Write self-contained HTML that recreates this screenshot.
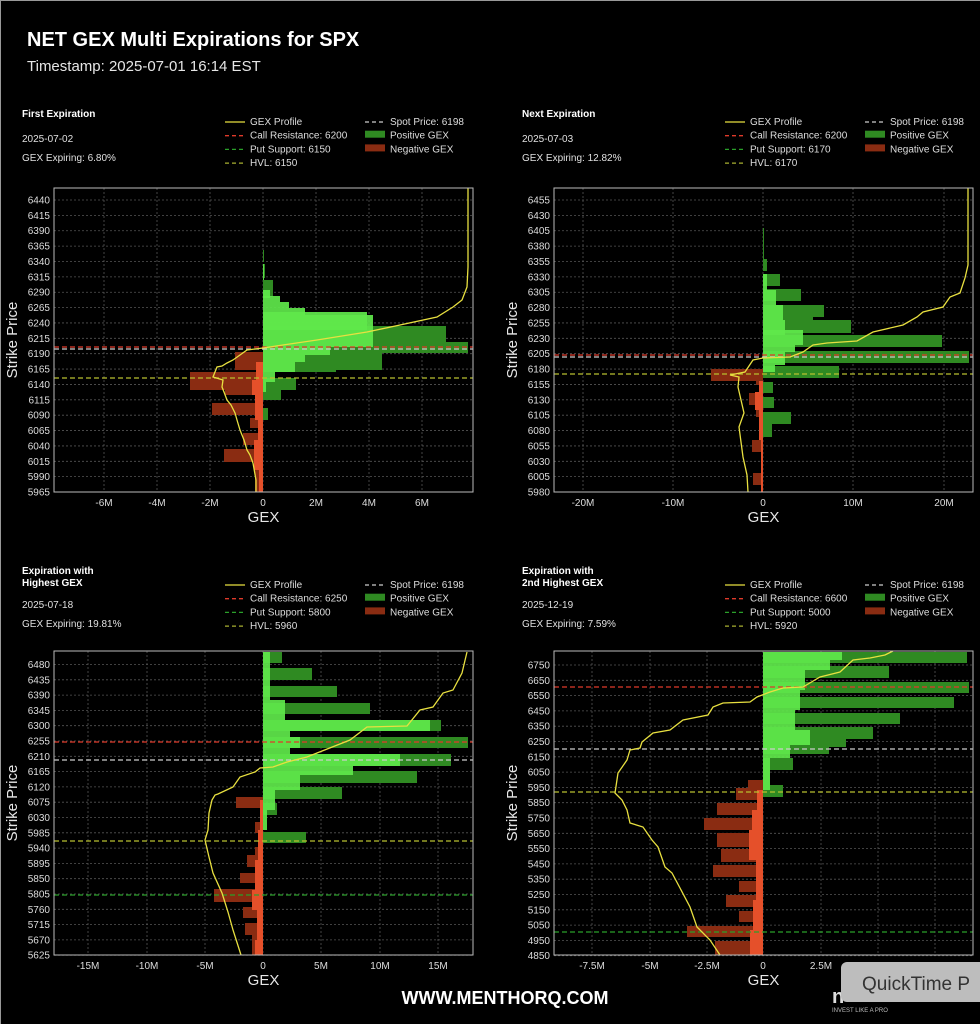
<!DOCTYPE html>
<html><head><meta charset="utf-8"><style>
html,body{margin:0;padding:0;background:#000;}
svg{display:block;font-family:"Liberation Sans",sans-serif;}
</style></head><body>
<svg id="s" width="980" height="1024" viewBox="0 0 980 1024" xmlns="http://www.w3.org/2000/svg"></svg>
<script>
var o='';
o+='<rect x="0" y="0" width="980" height="1024" fill="#000"/>';
o+='<rect x="0.5" y="0.5" width="990" height="1030" fill="none" stroke="#999" stroke-width="1"/>';
o+='<text x="27" y="46" fill="#fff" font-size="20" font-weight="bold">NET GEX Multi Expirations for SPX</text>';
o+='<text x="27" y="71" fill="#e6e6e6" font-size="15">Timestamp: 2025-07-01 16:14 EST</text>';
var DG='#2f8a22',BG='#5fe84b',DR='#8a2c12',BR='#e5502a';
function txt(x,y,t,sz,col,anc,w){o+='<text x="'+x+'" y="'+y+'" fill="'+(col||'#ddd')+'" font-size="'+(sz||10)+'"'+(anc?' text-anchor="'+anc+'"':'')+(w?' font-weight="bold"':'')+'>'+t+'</text>';}
function panel(p){
 var L=p.x0,R=p.x1,T=p.y0,B=p.y1;
 p.xt.forEach(function(t){o+='<line x1="'+t[0]+'" y1="'+T+'" x2="'+t[0]+'" y2="'+B+'" stroke="#555" stroke-width="0.8" stroke-dasharray="2,2"/>';
   txt(t[0],B+14,t[1],10,'#ddd','middle');});
 for(var i=0;i<p.yl.length;i++){var y=p.ya+i*p.ys;o+='<line x1="'+L+'" y1="'+y+'" x2="'+R+'" y2="'+y+'" stroke="#555" stroke-width="0.8" stroke-dasharray="2,2"/>';
   txt(L-4,y+3.5,p.yl[i],10,'#ddd','end');}
 p.dg.forEach(function(b){o+='<rect x="'+p.z+'" y="'+b[0]+'" width="'+(b[2]-p.z)+'" height="'+(b[1]-b[0])+'" fill="'+DG+'"/>';});
 p.bg.forEach(function(b){o+='<rect x="'+p.z+'" y="'+b[0]+'" width="'+(b[2]-p.z)+'" height="'+(b[1]-b[0])+'" fill="'+BG+'" opacity="0.92"/>';});
 p.dr.forEach(function(b){o+='<rect x="'+b[2]+'" y="'+b[0]+'" width="'+(p.z-b[2])+'" height="'+(b[1]-b[0])+'" fill="'+DR+'"/>';});
 p.br.forEach(function(b){o+='<rect x="'+b[2]+'" y="'+b[0]+'" width="'+(p.z-b[2])+'" height="'+(b[1]-b[0])+'" fill="'+BR+'"/>';});
 p.lv.forEach(function(l){o+='<line x1="'+L+'" y1="'+l[0]+'" x2="'+R+'" y2="'+l[0]+'" stroke="'+l[1]+'" stroke-width="1.3" stroke-dasharray="5,3"/>';});
 o+='<polyline points="'+p.yp.map(function(q){return q.join(',')}).join(' ')+'" fill="none" stroke="#e8e040" stroke-width="1.3"/>';
 o+='<rect x="'+L+'" y="'+T+'" width="'+(R-L)+'" height="'+(B-T)+'" fill="none" stroke="#bbb" stroke-width="1"/>';
 txt((L+R)/2,B+30,'GEX',15,'#e6e6e6','middle');
 o+='<text transform="translate('+(L-37)+','+((T+B)/2)+') rotate(-90)" fill="#e6e6e6" font-size="15" text-anchor="middle">Strike Price</text>';
}
function header(x,y,title,date,exp,leg){
 title.forEach(function(t,i){txt(x,y+i*12,t,10,'#fff',null,true);});
 var dy=title.length>1?y+34:y+25;
 txt(x,dy,date,10,'#e0e0e0');
 txt(x,dy+19,exp,10,'#e0e0e0');
 var lx=x+203,ly=y+(title.length>1?14:8);
 var rows=[['#e8e040','solid','GEX Profile'],['#e03a2a','d','Call Resistance: '+leg[0]],['#2aa02a','d','Put Support: '+leg[1]],['#a8b030','d','HVL: '+leg[2]]];
 rows.forEach(function(r,i){var yy=ly+i*13.7;
   o+='<line x1="'+lx+'" y1="'+(yy-3)+'" x2="'+(lx+20)+'" y2="'+(yy-3)+'" stroke="'+r[0]+'" stroke-width="1.3"'+(r[1]=='d'?' stroke-dasharray="4,3"':'')+'/>';
   txt(lx+25,yy,r[2],10,'#ddd');});
 var cx=lx+140;
 o+='<line x1="'+cx+'" y1="'+(ly-3)+'" x2="'+(cx+20)+'" y2="'+(ly-3)+'" stroke="#ccc" stroke-width="1.3" stroke-dasharray="4,3"/>';
 txt(cx+25,ly,'Spot Price: 6198',10,'#ddd');
 o+='<rect x="'+cx+'" y="'+(ly+13.7-8)+'" width="20" height="7" fill="'+DG+'"/>';txt(cx+25,ly+13.7,'Positive GEX',10,'#ddd');
 o+='<rect x="'+cx+'" y="'+(ly+27.4-8)+'" width="20" height="7" fill="'+DR+'"/>';txt(cx+25,ly+27.4,'Negative GEX',10,'#ddd');
}
header(22,117,['First Expiration'],'2025-07-02','GEX Expiring: 6.80%',['6200','6150','6150']);
header(522,117,['Next Expiration'],'2025-07-03','GEX Expiring: 12.82%',['6200','6170','6170']);
header(22,574,['Expiration with','Highest GEX'],'2025-07-18','GEX Expiring: 19.81%',['6250','5800','5960']);
header(522,574,['Expiration with','2nd Highest GEX'],'2025-12-19','GEX Expiring: 7.59%',['6600','5000','5920']);

panel({x0:54,x1:473,y0:188,y1:492,z:263,
 xt:[[104,'-6M'],[157,'-4M'],[210,'-2M'],[263,'0'],[316,'2M'],[369,'4M'],[422,'6M']],
 yl:['6440','6415','6390','6365','6340','6315','6290','6265','6240','6215','6190','6165','6140','6115','6090','6065','6040','6015','5990','5965'],ya:200,ys:15.37,
 dg:[[250,262,264],[264,278,265],[280,297,273],[326,342,446],[334,345,438],[342,353,468],[353,370,382],[360,372,336],[378,390,296],[390,400,281],[408,420,268]],
 bg:[[264,280,264],[290,298,270],[296,302,280],[302,308,289],[308,315,305],[312,330,367],[315,347,373],[347,355,330],[355,362,305],[362,372,295],[372,382,275],[382,392,266]],
 dr:[[352,370,235],[372,390,190],[385,395,225],[403,415,212],[418,428,250],[433,445,243],[449,462,224],[462,492,255]],
 br:[[362,380,256],[380,395,252],[395,420,255],[420,440,258],[440,470,254],[470,492,259]],
 lv:[[378,'#b8c030'],[349,'#ccc'],[347,'#e03a2a']],
 yp:[[256,492],[256,480],[253,463],[250,455],[247,450],[244,440],[240,430],[237,420],[235,413],[231,405],[227,400],[224,392],[222,387],[223,380],[213,377],[217,367],[222,366],[227,363],[233,360],[240,355],[247,350],[263,348],[283,345],[317,340],[367,332],[400,325],[437,317],[453,307],[462,300],[467,287],[468,267],[468,188]]});
panel({x0:554,x1:973,y0:188,y1:492,z:763,
 xt:[[583,'-20M'],[673,'-10M'],[763,'0'],[853,'10M'],[944,'20M']],
 yl:['6455','6430','6405','6380','6355','6330','6305','6280','6255','6230','6205','6180','6155','6130','6105','6080','6055','6030','6005','5980'],ya:200,ys:15.37,
 dg:[[228,259,764],[259,271,767],[274,286,780],[289,301,801],[305,317,824],[314,326,813],[320,333,851],[335,347,942],[351,363,969],[366,378,839],[382,393,773],[397,408,774],[412,424,791],[424,437,772]],
 bg:[[274,290,767],[290,305,776],[305,320,783],[320,335,785],[330,345,803],[345,352,795],[352,365,785],[365,372,775]],
 dr:[[369,381,711],[378,385,756],[393,405,749],[405,417,756],[440,452,752],[473,485,753]],
 br:[[381,392,759],[392,410,755],[410,440,759],[440,492,761]],
 lv:[[374,'#b8c030'],[357,'#ccc'],[355,'#e03a2a']],
 yp:[[748,492],[747,475],[743,457],[741,442],[739,427],[744,413],[741,400],[738,387],[739,377],[730,375],[745,372],[753,360],[763,358],[790,357],[803,352],[813,345],[827,343],[857,341],[873,332],[903,325],[917,317],[923,312],[943,307],[950,297],[960,293],[965,278],[968,265],[968,188]]});
panel({x0:54,x1:473,y0:651,y1:955,z:263,
 xt:[[88,'-15M'],[147,'-10M'],[205,'-5M'],[263,'0'],[321,'5M'],[380,'10M'],[438,'15M']],
 yl:['6480','6435','6390','6345','6300','6255','6210','6165','6120','6075','6030','5985','5940','5895','5850','5805','5760','5715','5670','5625'],ya:664.5,ys:15.3,
 dg:[[652,663,282],[668,680,312],[686,697,337],[703,714,370],[720,731,441],[737,748,468],[754,766,451],[771,783,417],[787,799,342],[803,815,277],[832,843,306]],
 bg:[[652,700,270],[700,720,285],[720,731,430],[731,737,290],[737,748,300],[748,754,290],[754,766,400],[766,775,353],[775,790,300],[790,810,275],[810,830,267]],
 dr:[[797,808,236],[822,833,255],[847,855,255],[855,867,247],[873,883,240],[889,902,214],[902,907,253],[907,918,243],[923,935,245],[935,955,252]],
 br:[[800,830,260],[830,860,258],[860,890,255],[890,910,252],[910,940,257],[940,955,255]],
 lv:[[895,'#2aa02a'],[841,'#b8c030'],[760,'#ccc'],[742,'#e03a2a']],
 yp:[[241,955],[233,930],[228,912],[222,893],[213,873],[209,857],[205,840],[208,830],[209,813],[212,800],[215,795],[218,794],[233,787],[240,777],[255,772],[260,768],[273,767],[287,762],[307,757],[317,753],[350,740],[367,727],[407,726],[420,710],[433,707],[443,693],[453,690],[462,673],[467,652]]});
panel({x0:554,x1:973,y0:651,y1:955,z:763,
 xt:[[592,'-7.5M'],[650,'-5M'],[707,'-2.5M'],[763,'0'],[821,'2.5M'],[878,'5M'],[935,'7.5M']],
 yl:['6750','6650','6550','6450','6350','6250','6150','6050','5950','5850','5750','5650','5550','5450','5350','5250','5150','5050','4950','4850'],ya:665,ys:15.3,
 dg:[[652,663,967],[666,678,889],[682,693,969],[697,708,954],[713,724,900],[727,739,873],[735,747,846],[742,754,829],[758,770,793],[785,797,783],[770,785,770]],
 bg:[[652,660,842],[660,670,830],[670,690,805],[690,710,800],[710,730,795],[730,745,810],[745,758,790],[758,790,770]],
 dr:[[780,790,748],[788,800,736],[803,815,717],[818,830,704],[833,847,717],[849,862,721],[865,877,713],[881,892,739],[895,907,726],[911,922,739],[926,937,687],[941,955,715]],
 br:[[790,810,757],[810,830,752],[830,860,749],[860,900,756],[900,930,753],[930,955,750]],
 lv:[[932,'#2aa02a'],[792,'#b8c030'],[749,'#ccc'],[687,'#e03a2a']],
 yp:[[720,955],[710,940],[697,927],[690,907],[680,888],[672,873],[665,867],[658,847],[652,840],[643,827],[630,823],[627,810],[622,800],[615,793],[618,773],[627,760],[630,750],[640,748],[642,742],[653,733],[670,730],[683,720],[708,715],[713,707],[723,703],[750,702],[757,697],[770,692],[783,688],[803,687],[820,677],[840,672],[853,660],[870,658],[885,655],[893,651]]});

txt(505,1004,'WWW.MENTHORQ.COM',18,'#fff','middle',true);
txt(832,1003,'n',20,'#ddd',null,true);
txt(832,1012,'INVEST LIKE A PRO',6,'#bbb');
o+='<rect x="841" y="962" width="150" height="40" rx="6" fill="#bdbdbd"/>';
txt(862,990,'QuickTime P',19,'#333');
document.getElementById('s').innerHTML=o;
</script>
</body></html>
